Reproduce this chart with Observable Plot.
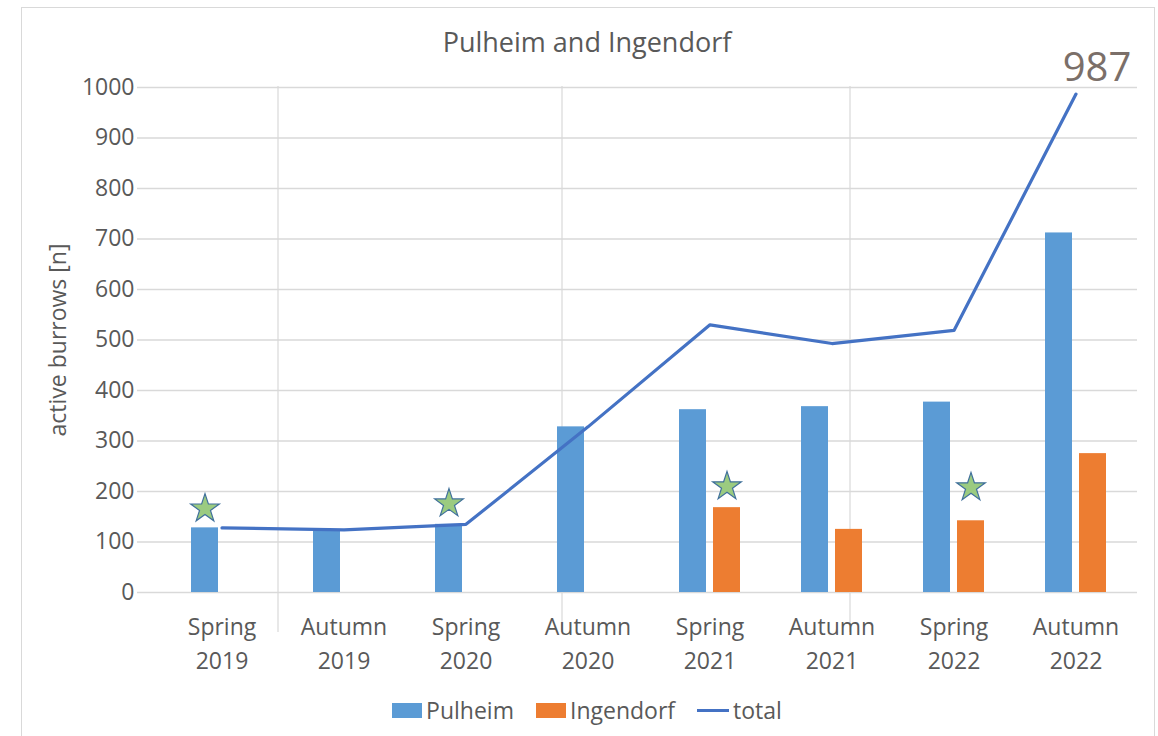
<!DOCTYPE html>
<html><head><meta charset="utf-8">
<script src="https://cdn.jsdelivr.net/npm/d3@7"></script>
<script src="https://cdn.jsdelivr.net/npm/@observablehq/plot@0.6"></script>
<style>
body{margin:0;background:#fff;font-family:"Open Sans",sans-serif;}
#wrap{position:relative;width:1158px;height:736px;overflow:hidden;background:#fff;}
#frame{position:absolute;left:21px;top:7px;width:1132px;height:760px;border:1px solid #d9d9d9;pointer-events:none;}
#title{margin-left:21px;width:1132px;height:60px;box-sizing:border-box;padding-top:28px;line-height:28px;text-align:center;font-size:27px;color:#595959;}
#legend{margin-left:21px;width:1132px;height:40px;display:flex;justify-content:center;align-items:center;font-size:23px;color:#595959;}
.item{display:flex;align-items:center;margin:0 11px;}
.sw{display:inline-block;width:30px;height:15px;margin-right:4px;}
.ln{display:inline-block;width:32px;height:3px;margin-right:4px;}
#chart svg{display:block;overflow:visible;}
</style></head>
<body>
<div id="wrap">
  <div id="frame"></div>
  <div id="title">Pulheim and Ingendorf</div>
  <div id="chart"></div>
  <div id="legend"></div>
</div>
<script>
const categories = ["Spring 2019","Autumn 2019","Spring 2020","Autumn 2020","Spring 2021","Autumn 2021","Spring 2022","Autumn 2022"];
const pulheim   = [128, 124, 135, 328, 362, 368, 377, 712];
const ingendorf = [null, null, null, null, 168, 125, 142, 275];
const total     = [128, 124, 135, 328, 530, 493, 519, 987];
const starCategories = ["Spring 2019","Spring 2020","Spring 2021","Spring 2022"];
const starSeries     = ["Pulheim","Pulheim","Ingendorf","Ingendorf"];
const starValues     = [166, 176, 210, 208];
const dividerCategories = ["Spring 2019","Autumn 2020","Autumn 2021"];
const yTicks = [0,100,200,300,400,500,600,700,800,900,1000];
const seriesNames = ["Pulheim","Ingendorf","total"];
const colors = {Pulheim:"#5B9BD5", Ingendorf:"#ED7D31", total:"#4472C4"};

const barsP = categories.map((c,i)=>({category:c, value:pulheim[i]}));
const barsI = categories.map((c,i)=>({category:c, value:ingendorf[i]})).filter(d=>d.value!=null);
const totals = categories.map((c,i)=>({category:c, value:total[i]}));
const stars = starCategories.map((c,i)=>({category:c, series:starSeries[i], value:starValues[i]}));
const lastTotal = [totals[totals.length-1]];
const dividerShift = [56, -26, 18];

const marks = [
  Plot.ruleY(yTicks, {stroke:"#d9d9d9", strokeWidth:1.3}),
  ...dividerCategories.map((c,i)=>Plot.ruleX([c], {x:d=>d, dx:dividerShift[i], stroke:"#d9d9d9", strokeWidth:1.2, insetTop:-1, insetBottom:-40})),
  Plot.barY(barsP, {x:"category", y:"value", fill:colors.Pulheim, dx:-17}),
  Plot.barY(barsI, {x:"category", y:"value", fill:colors.Ingendorf, dx:17}),
  Plot.line(totals, {x:"category", y:"value", stroke:colors.total, strokeWidth:3.2}),
  Plot.dot(stars.filter(d=>d.series==="Pulheim"), {x:"category", y:"value", symbol:"star", r:9, fill:"#9BCB80", stroke:"#41719C", strokeWidth:1.2, dx:-17}),
  Plot.dot(stars.filter(d=>d.series==="Ingendorf"), {x:"category", y:"value", symbol:"star", r:9, fill:"#9BCB80", stroke:"#41719C", strokeWidth:1.2, dx:17}),
  Plot.text(lastTotal, {x:"category", y:"value", text:d=>String(d.value), dx:21, dy:-26, fontSize:40, fill:"#7B6F69", textAnchor:"middle"}),
  Plot.axisY({ticks:yTicks, tickSize:0, tickPadding:3, fontSize:23, fill:"#595959", tickFormat:d=>String(d), label:"active burrows [n]", labelAnchor:"center", labelArrow:"none", labelOffset:88}),
  Plot.axisX({tickSize:0, tickPadding:19, fontSize:23, fill:"#595959", lineHeight:1.45, tickFormat:d=>d.replace(" ","\n"), label:null})
];

const chart = Plot.plot({
  width:1158, height:630,
  marginLeft:137, marginRight:21, marginTop:27, marginBottom:98,
  style:{fontFamily:"'Open Sans', sans-serif", fontSize:"24px", color:"#595959", background:"transparent"},
  x:{type:"band", domain:categories, paddingInner:0.779, paddingOuter:0.3895, insetLeft:23},
  y:{domain:[0,1000]},
  marks
});
document.getElementById("chart").appendChild(chart);

const legend = document.getElementById("legend");
seriesNames.forEach(s=>{
  const it = document.createElement("span"); it.className="item";
  const sw = document.createElement("span");
  sw.className = s==="total" ? "ln" : "sw";
  sw.style.background = colors[s];
  it.appendChild(sw);
  it.appendChild(document.createTextNode(s));
  legend.appendChild(it);
});
</script>
</body></html>
